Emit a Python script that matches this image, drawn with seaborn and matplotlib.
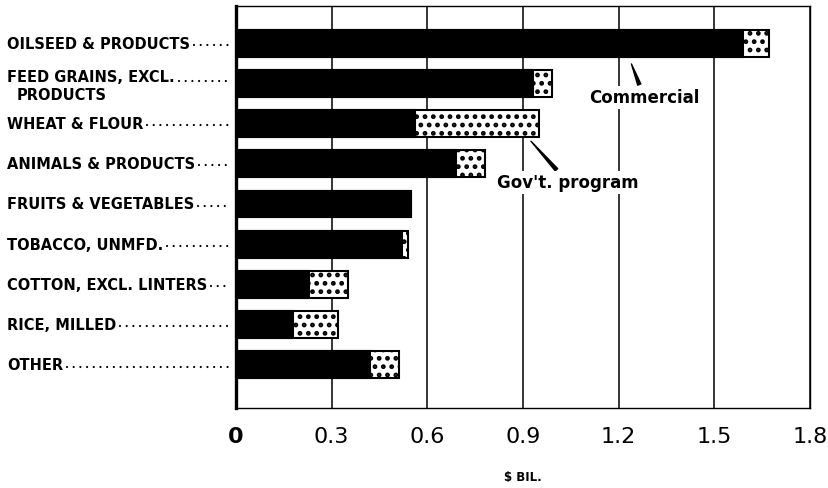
import numpy as np
import pandas as pd
import matplotlib
matplotlib.use('Agg')
import matplotlib.pyplot as plt
import matplotlib.transforms as mtransforms
from matplotlib.lines import Line2D
import seaborn as sns

# values ($ billion)
categories = ['OILSEED & PRODUCTS', 'FEED GRAINS, EXCL. PRODUCTS', 'WHEAT & FLOUR',
              'ANIMALS & PRODUCTS', 'FRUITS & VEGETABLES', 'TOBACCO, UNMFD.',
              'COTTON, EXCL. LINTERS', 'RICE, MILLED', 'OTHER']
commercial = [1.59, 0.93, 0.56, 0.69, 0.55, 0.52, 0.23, 0.18, 0.42]
govt_program = [0.08, 0.06, 0.39, 0.09, 0.0, 0.02, 0.12, 0.14, 0.09]
x_ticks = [0, 0.3, 0.6, 0.9, 1.2, 1.5, 1.8]
x_tick_labels = ['0', '0.3', '0.6', '0.9', '1.2', '1.5', '1.8']

df = pd.DataFrame({'category': categories, 'commercial': commercial, 'govt': govt_program})
df['total'] = df['commercial'] + df['govt']

sns.set_style('white')
plt.rcParams['font.family'] = ['DejaVu Sans']
plt.rcParams['text.color'] = 'black'
plt.rcParams['xtick.color'] = 'black'
plt.rcParams['axes.labelcolor'] = 'black'
plt.rcParams['hatch.linewidth'] = 2.2

W, H = 829, 489
fig = plt.figure(figsize=(W / 100, H / 100), dpi=100)
ax_left, ax_right, ax_top, ax_bottom = 236, 810, 7, 409
ax = fig.add_axes([ax_left / W, 1 - ax_bottom / H, (ax_right - ax_left) / W, (ax_bottom - ax_top) / H])

# gov't program part drawn as full-length dotted bar, commercial part on top
sns.barplot(data=df, x='total', y='category', orient='h', color='white', saturation=1,
            edgecolor='black', linewidth=1.5, hatch='..', width=0.67, ax=ax, zorder=2)
sns.barplot(data=df, x='commercial', y='category', orient='h', color='black', saturation=1,
            edgecolor='black', linewidth=1.5, width=0.67, ax=ax, zorder=3)

ax.set_xlim(0, 1.8)
ax.set_ylim(len(categories) - 1 + 1.07, -0.92)
ax.set_xticks(x_ticks)
ax.set_xticklabels(x_tick_labels, fontsize=16)
ax.get_xticklabels()[0].set_fontweight('bold')
ax.tick_params(axis='x', length=0, pad=13)
ax.tick_params(axis='y', length=0, labelleft=False)
ax.set_ylabel('')
ax.set_xlabel('$ BIL.', fontsize=8.5, fontweight='bold', labelpad=17)
ax.xaxis.grid(True, color='black', lw=1.1)
ax.set_axisbelow(True)
for side in ['top', 'right', 'bottom']:
    ax.spines[side].set_color('black')
    ax.spines[side].set_linewidth(1.0)
ax.spines['left'].set_linewidth(2.4)
ax.spines['left'].set_color('black')

# category labels with dotted leaders
trans = mtransforms.blended_transform_factory(fig.transFigure, ax.transData)
label_texts = []
for i, cat in enumerate(categories):
    if cat.startswith('FEED GRAINS'):
        t = ax.text(7 / W, i - 0.17, 'FEED GRAINS, EXCL.', transform=trans, ha='left', va='center',
                    fontsize=10.5, fontweight='bold')
        ax.text(17 / W, i + 0.27, 'PRODUCTS', transform=trans, ha='left', va='center',
                fontsize=10.5, fontweight='bold')
        label_texts.append((t, i - 0.06))
    else:
        t = ax.text(7 / W, i, cat, transform=trans, ha='left', va='center',
                    fontsize=10.5, fontweight='bold')
        label_texts.append((t, i + 0.04))

fig.canvas.draw()
renderer = fig.canvas.get_renderer()
inv = fig.transFigure.inverted()
for t, yd in label_texts:
    bb = t.get_window_extent(renderer)
    y_px = ax.transData.transform((0, yd))[1]
    x0 = bb.x1 + 4
    x1 = ax.transAxes.transform((0, 0))[0] - 8
    (fx0, fy), (fx1, _) = inv.transform([(x0, y_px), (x1, y_px)])
    fig.add_artist(Line2D([fx0, fx1], [fy, fy], transform=fig.transFigure, color='black',
                          lw=1.6, dashes=(0.01, 3.0), dash_capstyle='round'))

# series call-outs
box = dict(boxstyle='square,pad=0.15', fc='white', ec='none')
arrow = dict(arrowstyle='wedge,tail_width=0.2', color='black', shrinkA=1, shrinkB=0)
ax.annotate('Commercial', xy=(1.24, 0.52), xytext=(1.28, 1.35), ha='center', va='center',
            fontsize=12, fontweight='bold', bbox=box, zorder=5, arrowprops=arrow)
ax.annotate("Gov't. program", xy=(0.925, 2.44), xytext=(1.04, 3.46), ha='center', va='center',
            fontsize=12, fontweight='bold', bbox=box, zorder=5, arrowprops=arrow)

fig.savefig('out.png', dpi=100)
